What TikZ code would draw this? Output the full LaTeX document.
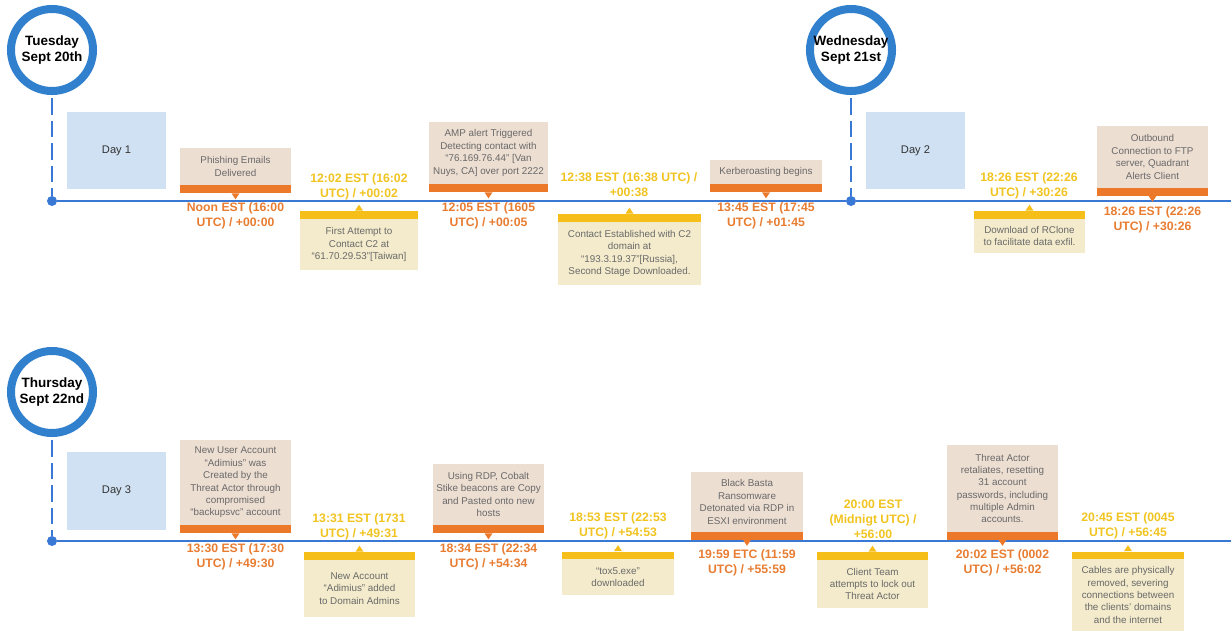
\documentclass[tikz,border=0pt]{standalone}
\usepackage{fontspec}
\setmainfont{Liberation Sans}
\usetikzlibrary{calc}
\definecolor{tlblue}{RGB}{58,120,214}
\definecolor{ringblue}{RGB}{48,128,206}
\definecolor{daybg}{RGB}{207,225,242}
\definecolor{tanbg}{RGB}{237,222,210}
\definecolor{sandbg}{RGB}{243,235,203}
\definecolor{orbarc}{RGB}{236,120,42}
\definecolor{ylbarc}{RGB}{246,190,25}
\definecolor{ortxt}{RGB}{232,125,50}
\definecolor{yltxt}{RGB}{241,196,32}
\definecolor{boxtxt}{RGB}{105,105,105}
\tikzset{
  daycirc/.style={circle, draw=ringblue, line width=5.7pt, fill=white, minimum size=2.05cm, inner sep=0pt, align=center, font=\fontsize{9.6}{12}\selectfont\bfseries},
  daytag/.style={fill=daybg, minimum width=2.475cm, minimum height=1.9cm, inner sep=0pt, text=black!80, font=\fontsize{7.9}{9.5}\selectfont},
  tanbox/.style={fill=tanbg, minimum width=2.775cm, inner sep=0pt, align=center, text=boxtxt, font=\fontsize{7}{8.8}\selectfont},
  sandbox/.style={fill=sandbg, minimum width=2.775cm, inner sep=0pt, align=center, text=boxtxt, font=\fontsize{7}{8.8}\selectfont},
  orbar/.style={fill=orbarc, minimum width=2.775cm, minimum height=0.2cm, inner sep=0pt},
  ylbar/.style={fill=ylbarc, minimum width=2.775cm, minimum height=0.2cm, inner sep=0pt},
  ortime/.style={align=center, inner sep=0pt, text=ortxt, font=\fontsize{8.7}{10.6}\selectfont\bfseries},
  yltime/.style={align=center, inner sep=0pt, text=yltxt, font=\fontsize{8.7}{10.6}\selectfont\bfseries},
  tldot/.style={circle, fill=tlblue, minimum size=0.25cm, inner sep=0pt},
  tlline/.style={draw=tlblue, line width=1.3pt},
  tldash/.style={draw=tlblue, line width=1.8pt, dash pattern=on 12pt off 4pt}
}
\def\tipdown(#1){\fill[orbarc] ($(#1.south)+(-4,0)$) -- ($(#1.south)+(0,6)$) -- ($(#1.south)+(4,0)$) -- cycle;}
\def\tipup(#1){\fill[ylbarc] ($(#1.north)+(-4,0)$) -- ($(#1.north)+(0,-6)$) -- ($(#1.north)+(4,0)$) -- cycle;}

\begin{document}
\begin{tikzpicture}[x=0.025cm, y=-0.025cm]
			%%%%% START %%%%%
			\useasboundingbox[fill=white] (0,0) rectangle (1231,632);
			
			% timelines
			\node[tldot] (dtue) at (52,201) {};
			\node[tldot] (dwed) at (851,201) {};
			\node[tldot] (dthu) at (52,541) {};
			\coordinate (endtop) at (1231,201);
			\coordinate (endbot) at (1231,541);
			\draw[tlline] (dtue) -- (dwed) -- (endtop);
			\draw[tlline] (dthu) -- (endbot);
			
			\node[daycirc] (tue) at (52,50) {Tuesday\\Sept 20th};
			\node[daycirc] (wed) at (851,50) {Wednesday\\Sept 21st};
			\node[daycirc] (thu) at (52,392) {Thursday\\Sept 22nd};
			\draw[tldash] (tue.south) ++(0,3) -- (dtue);
			\draw[tldash] (wed.south) ++(0,3) -- (dwed);
			\draw[tldash] (thu.south) ++(0,3) -- (dthu);
			
			\node[daytag] (day1) at (116.5,150.5) {Day 1};
			\node[daytag] (day2) at (915.5,150.5) {Day 2};
			\node[daytag, minimum height=1.95cm] (day3) at (116.5,491) {Day 3};
			
			% day 1
			\node[tanbox, minimum height=0.925cm] (phish) at (235.5,166.5) {Phishing Emails\\Delivered};
			\node[orbar] (phishbar) at (235.5,189) {};
			\tipdown(phishbar)
			\node[ortime] (phishtime) at (235.5,216) {Noon EST (16:00\\UTC) / +00:00};
			
			\node[ylbar, minimum width=2.95cm] (firstbar) at (359,215) {};
			\tipup(firstbar)
			\node[sandbox, minimum width=2.95cm, minimum height=1.275cm] (first) at (359,244.5) {First Attempt to\\Contact C2 at\\``61.70.29.53''[Taiwan]};
			\node[yltime] (firsttime) at (359,187) {12:02 EST (16:02\\UTC) / +00:02};
			
			\node[tanbox, minimum width=2.975cm, minimum height=1.55cm] (amp) at (488.5,153) {AMP alert Triggered\\Detecting contact with\\``76.169.76.44'' [Van\\Nuys, CA] over port 2222};
			\node[orbar, minimum width=2.975cm] (ampbar) at (488.5,188) {};
			\tipdown(ampbar)
			\node[ortime] (amptime) at (488.5,216) {12:05 EST (1605\\UTC) / +00:05};
			
			\node[ylbar, minimum width=3.575cm] (ctbar) at (629.5,218) {};
			\tipup(ctbar)
			\node[sandbox, minimum width=3.575cm, minimum height=1.575cm] (ct) at (629.5,253.5) {Contact Established with C2\\domain at\\``193.3.19.37''[Russia],\\Second Stage Downloaded.};
			\node[yltime] (cttime) at (629,185) {12:38 EST (16:38 UTC) /\\+00:38};
			
			\node[tanbox, minimum height=0.6cm] (kerb) at (766,172) {Kerberoasting begins};
			\node[orbar] (kerbbar) at (766,188) {};
			\tipdown(kerbbar)
			\node[ortime] (kerbtime) at (766,216) {13:45 EST (17:45\\UTC) / +01:45};
			
			% day 2
			\node[ylbar] (rclbar) at (1029.5,215) {};
			\tipup(rclbar)
			\node[sandbox, minimum height=0.85cm] (rcl) at (1029.5,236) {Download of RClone\\to facilitate data exfil.};
			\node[yltime] (rcltime) at (1029,185.5) {18:26 EST (22:26\\UTC) / +30:26};
			
			\node[tanbox, minimum height=1.55cm] (ftp) at (1152.5,157) {Outbound\\Connection to FTP\\server, Quadrant\\Alerts Client};
			\node[orbar] (ftpbar) at (1152.5,191.5) {};
			\tipdown(ftpbar)
			\node[ortime] (ftptime) at (1152.5,219.5) {18:26 EST (22:26\\UTC) / +30:26};
			
			% day 3
			\node[tanbox, minimum height=2.125cm] (nua) at (235.5,482.5) {New User Account\\``Adimius'' was\\Created by the\\Threat Actor through\\compromised\\``backupsvc'' account};
			\node[orbar] (nuabar) at (235.5,529) {};
			\tipdown(nuabar)
			\node[ortime] (nuatime) at (235.5,557) {13:30 EST (17:30\\UTC) / +49:30};
			
			\node[ylbar] (admbar) at (359.5,556) {};
			\tipup(admbar)
			\node[sandbox, minimum height=1.425cm] (adm) at (359.5,588.5) {New Account\\``Adimius'' added\\to Domain Admins};
			\node[yltime] (admtime) at (359,527) {13:31 EST (1731\\UTC) / +49:31};
			
			\node[tanbox, minimum height=1.525cm] (rdp) at (488.5,494.5) {Using RDP, Cobalt\\Stike beacons are Copy\\and Pasted onto new\\hosts};
			\node[orbar] (rdpbar) at (488.5,529) {};
			\tipdown(rdpbar)
			\node[ortime] (rdptime) at (488.5,556.5) {18:34 EST (22:34\\UTC) / +54:34};
			
			\node[ylbar] (toxbar) at (618,555.5) {};
			\tipup(toxbar)
			\node[sandbox, minimum height=0.9cm] (tox) at (618,577) {``tox5.exe''\\downloaded};
			\node[yltime] (toxtime) at (618,526) {18:53 EST (22:53\\UTC) / +54:53};
			
			\node[tanbox, minimum height=1.5cm] (bb) at (747,502) {Black Basta\\Ransomware\\Detonated via RDP in\\ESXI environment};
			\node[orbar] (bbbar) at (747,535.5) {};
			\tipdown(bbbar)
			\node[ortime] (bbtime) at (747,563) {19:59 ETC (11:59\\UTC) / +55:59};
			
			\node[ylbar] (lockbar) at (872.5,556) {};
			\tipup(lockbar)
			\node[sandbox, minimum height=1.2cm] (lock) at (872.5,584) {Client Team\\attempts to lock out\\Threat Actor};
			\node[yltime] (locktime) at (873,519) {20:00 EST\\(Midnigt UTC) /\\+56:00};
			
			\node[tanbox, minimum height=2.175cm] (ret) at (1002.5,488.5) {Threat Actor\\retaliates, resetting\\31 account\\passwords, including\\multiple Admin\\accounts.};
			\node[orbar] (retbar) at (1002.5,535.5) {};
			\tipdown(retbar)
			\node[ortime] (rettime) at (1002.5,563) {20:02 EST (0002\\UTC) / +56:02};
			
			\node[ylbar] (cabbar) at (1128,555.5) {};
			\tipup(cabbar)
			\node[sandbox, minimum height=1.8cm] (cab) at (1128,595) {Cables are physically\\removed, severing\\connections between\\the clients' domains\\and the internet};
			\node[yltime] (cabtime) at (1128,526) {20:45 EST (0045\\UTC) / +56:45};
			
			%%%%% END %%%%%
		\end{tikzpicture}
\end{document}
